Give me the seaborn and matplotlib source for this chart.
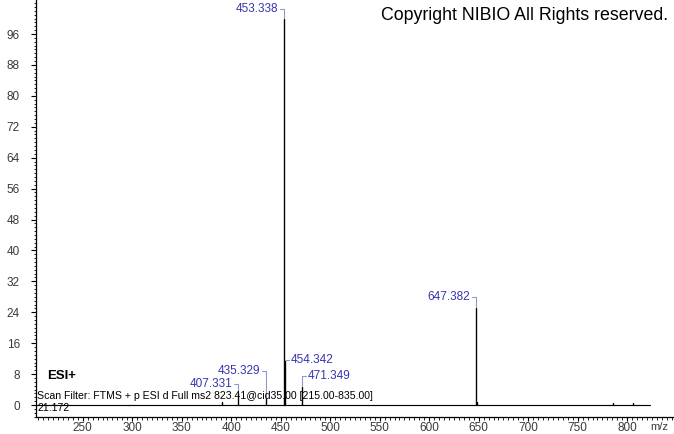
import matplotlib
matplotlib.use("Agg")
import matplotlib.pyplot as plt
import seaborn as sns
from matplotlib.ticker import MultipleLocator

# Peak list (m/z, relative abundance %)
peak_mz = [390.7, 407.331, 435.329, 453.338, 454.342, 471.349, 647.382, 648.38, 786.0, 806.0]
peak_int = [0.8, 3.1, 1.8, 100.0, 11.3, 4.7, 25.1, 0.7, 0.5, 0.6]

# Labelled peaks: m/z, side of the text, connector rise in pixels
label_mz = [453.338, 647.382, 454.342, 471.349, 435.329, 407.331]
label_side = ["left", "left", "right", "right", "left", "left"]
label_rise = [10, 11, 1, 11, 27, 9]

scan_start, scan_end = 202.8, 823.4
x_ticks = [250, 300, 350, 400, 450, 500, 550, 600, 650, 700, 750, 800]
y_ticks = [0, 8, 16, 24, 32, 40, 48, 56, 64, 72, 80, 88, 96]

# stick spectrum as one polyline
xs, ys = [scan_start], [0.0]
for m, h in zip(peak_mz, peak_int):
    xs += [m, m, m]
    ys += [0.0, h, 0.0]
xs.append(scan_end)
ys.append(0.0)

sns.set_style("ticks")
plt.rcParams["font.family"] = ["Liberation Sans", "DejaVu Sans"]

fig = plt.figure(figsize=(6.74, 4.34), dpi=100)
ax = fig.add_axes([36 / 674, 17 / 434, 637 / 674, 417 / 434])

sns.lineplot(x=xs, y=ys, sort=False, estimator=None, color="black", linewidth=0.85, ax=ax)

ax.set_xlim(scan_start, 846.3)
ax.set_ylim(-3.1, 104.8)
ax.set_xticks(x_ticks)
ax.set_yticks(y_ticks)
ax.xaxis.set_minor_locator(MultipleLocator(5))
ax.yaxis.set_minor_locator(MultipleLocator(1))
ax.tick_params(which="major", direction="out", length=3, width=0.8, color="black",
               labelsize=8.5, labelcolor="#3a3a3a", pad=0.8)
ax.tick_params(axis="y", which="major", length=3.6, pad=8)
ax.tick_params(which="minor", direction="out", length=1.8, width=0.6, color="black")
for s in ["top", "right"]:
    ax.spines[s].set_visible(False)
for s in ["left", "bottom"]:
    ax.spines[s].set_color("black")
    ax.spines[s].set_linewidth(0.9)
ax.set_xlabel("")
ax.set_ylabel("")
ax.text((668 - 36) / 637, -5.5 / 417, "m/z", transform=ax.transAxes, ha="right", va="top",
        fontsize=8, color="#3a3a3a")

# peak labels with bracket connectors
fig.canvas.draw()
to_disp = ax.transData
to_data = ax.transData.inverted()
label_blue = "#3535b0"
link_col = "#8c9cc8"
for m, side, rise in zip(label_mz, label_side, label_rise):
    h = peak_int[peak_mz.index(m)]
    px, py = to_disp.transform((m, h))
    sign = -1 if side == "left" else 1
    pts = [(px, py + 1), (px, py + rise), (px + sign * 4, py + rise)]
    dpts = to_data.transform(pts)
    ax.plot(dpts[:, 0], dpts[:, 1], color=link_col, linewidth=0.8)
    tx, ty = to_data.transform((px + sign * 6, py + rise))
    ax.text(tx, ty, f"{m:.3f}", ha="right" if side == "left" else "left", va="center",
            fontsize=8.5, color=label_blue)

ax.text((47 - 36) / 637, (417 - 376) / 417, "ESI+", transform=ax.transAxes,
        ha="left", va="center", fontsize=9.5, fontweight="bold", color="black")
ax.text(0.002, (417 - 396) / 417,
        "Scan Filter: FTMS + p ESI d Full ms2 823.41@cid35.00 [215.00-835.00]",
        transform=ax.transAxes, ha="left", va="center", fontsize=7.6, color="black")
ax.text(0.002, (417 - 408) / 417, "21.172", transform=ax.transAxes,
        ha="left", va="center", fontsize=7.6, color="black")

fig.text(668 / 674, 1 - 15 / 434, "Copyright NIBIO All Rights reserved.",
         ha="right", va="center", fontsize=12.8, color="black")

fig.savefig("out.png", dpi=100)
